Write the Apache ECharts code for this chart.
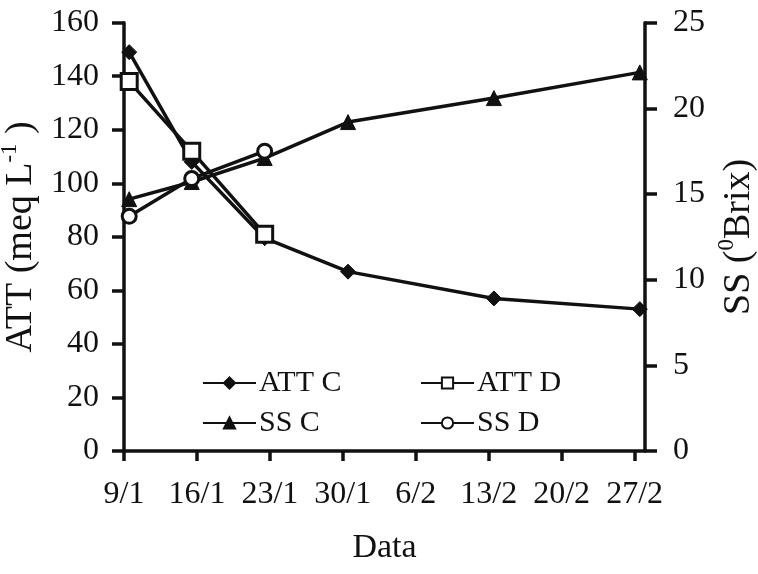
<!DOCTYPE html>
<html>
<head>
<meta charset="utf-8">
<script src="https://cdn.jsdelivr.net/npm/echarts@6/dist/echarts.min.js"></script>
<style>
html,body{margin:0;padding:0;background:#fff;}
#c{width:758px;height:574px;}
</style>
</head>
<body>
<div id="c"></div>
<script>
// Sample positions (days after 9/1)
var sampleDays = [0.5, 6.5, 13.5, 21.5, 35.5, 49.5];
// Tick positions (days after 9/1) and their labels
var tickDays = [0, 7, 14, 21, 28, 35, 42, 49];
var tickLabels = ['9/1', '16/1', '23/1', '30/1', '6/2', '13/2', '20/2', '27/2'];
// Series values
var attC = [149, 108, 79.5, 67, 57, 53];
var attD = [138, 112, 81];
var ssC = [14.7, 15.7, 17.1, 19.2, 20.6, 22.1];
var ssD = [13.7, 15.9, 17.5];

var FONT = 'Liberation Serif';
var INK = '#111';

function pairs(vals) {
  return vals.map(function (v, i) { return [sampleDays[i], v]; });
}

var chart = echarts.init(document.getElementById('c'));

var baseLine = { color: INK, width: 3.5 };

var series = [
  { name: 'ATT C', type: 'line', yAxisIndex: 0, data: pairs(attC),
    symbol: 'diamond', symbolSize: 15, lineStyle: baseLine,
    itemStyle: { color: INK, borderColor: INK, borderWidth: 1 } },
  { name: 'ATT D', type: 'line', yAxisIndex: 0, data: pairs(attD),
    symbol: 'rect', symbolSize: 16, lineStyle: baseLine,
    itemStyle: { color: '#fff', borderColor: INK, borderWidth: 3 } },
  { name: 'SS C', type: 'line', yAxisIndex: 1, data: pairs(ssC),
    symbol: 'triangle', symbolSize: 15, lineStyle: baseLine,
    itemStyle: { color: INK, borderColor: INK, borderWidth: 1 } },
  { name: 'SS D', type: 'line', yAxisIndex: 1, data: pairs(ssD),
    symbol: 'circle', symbolSize: 14, lineStyle: baseLine,
    itemStyle: { color: '#fff', borderColor: INK, borderWidth: 3 } }
];
series.forEach(function (s) { s.animation = false; s.emphasis = { disabled: true }; });

function legendAt(name, left, top) {
  return {
    data: [name], left: left, top: top, orient: 'horizontal',
    itemWidth: 53, itemHeight: 14, itemGap: 0, padding: 0,
    textStyle: { fontFamily: FONT, fontSize: 30, color: INK, padding: [0, 0, 0, -2] },
    selectedMode: false
  };
}

var option = {
  animation: false,
  backgroundColor: '#fff',
  grid: { left: 124, right: 113, top: 22.7, bottom: 123, containLabel: false, outerBoundsMode: 'none' },
  legend: [
    legendAt('ATT C', 202, 368),
    legendAt('ATT D', 420, 368),
    legendAt('SS C', 202, 408),
    legendAt('SS D', 420, 408)
  ],
  xAxis: {
    type: 'value', min: 0, max: 50,
    splitLine: { show: false },
    axisLine: { show: true, onZero: false, lineStyle: { color: INK, width: 3.5 } },
    axisTick: { show: true, length: 10, lineStyle: { color: INK, width: 3.5 }, customValues: tickDays },
    axisLabel: {
      customValues: tickDays, margin: 28,
      fontFamily: FONT, fontSize: 32, color: INK,
      formatter: function (v) {
        var i = tickDays.indexOf(Math.round(v));
        return i >= 0 ? tickLabels[i] : '';
      }
    },
    name: 'Data', nameLocation: 'middle', nameGap: 80,
    nameTextStyle: { fontFamily: FONT, fontSize: 34, color: INK }
  },
  yAxis: [
    {
      type: 'value', min: 0, max: 160, interval: 20, position: 'left',
      splitLine: { show: false },
      axisLine: { show: true, lineStyle: { color: INK, width: 3.5 } },
      axisTick: { show: true, length: 12, lineStyle: { color: INK, width: 3.5 } },
      axisLabel: { margin: 25, fontFamily: FONT, fontSize: 32, color: INK },
      name: '{m|ATT (meq L}{s|-1}{m| )}', nameLocation: 'middle', nameGap: 62, nameRotate: 90,
      nameTextStyle: {
        fontFamily: FONT, fontSize: 38, color: INK,
        rich: {
          m: { fontFamily: FONT, fontSize: 38, color: INK, lineHeight: 42, verticalAlign: 'bottom' },
          s: { fontFamily: FONT, fontSize: 23, color: INK, lineHeight: 42, verticalAlign: 'top' }
        }
      }
    },
    {
      type: 'value', min: 0, max: 25, interval: 5, position: 'right',
      splitLine: { show: false },
      axisLine: { show: true, lineStyle: { color: INK, width: 3.5 } },
      axisTick: { show: true, length: 12, lineStyle: { color: INK, width: 3.5 } },
      axisLabel: { margin: 28, fontFamily: FONT, fontSize: 32, color: INK },
      name: '{m|SS (}{s|0}{m|Brix)}', nameLocation: 'middle', nameGap: 68, nameRotate: 90,
      nameTextStyle: {
        fontFamily: FONT, fontSize: 38, color: INK,
        rich: {
          m: { fontFamily: FONT, fontSize: 38, color: INK, lineHeight: 42, verticalAlign: 'bottom' },
          s: { fontFamily: FONT, fontSize: 23, color: INK, lineHeight: 42, verticalAlign: 'top' }
        }
      }
    }
  ],
  series: series
};

chart.setOption(option);
</script>
</body>
</html>
